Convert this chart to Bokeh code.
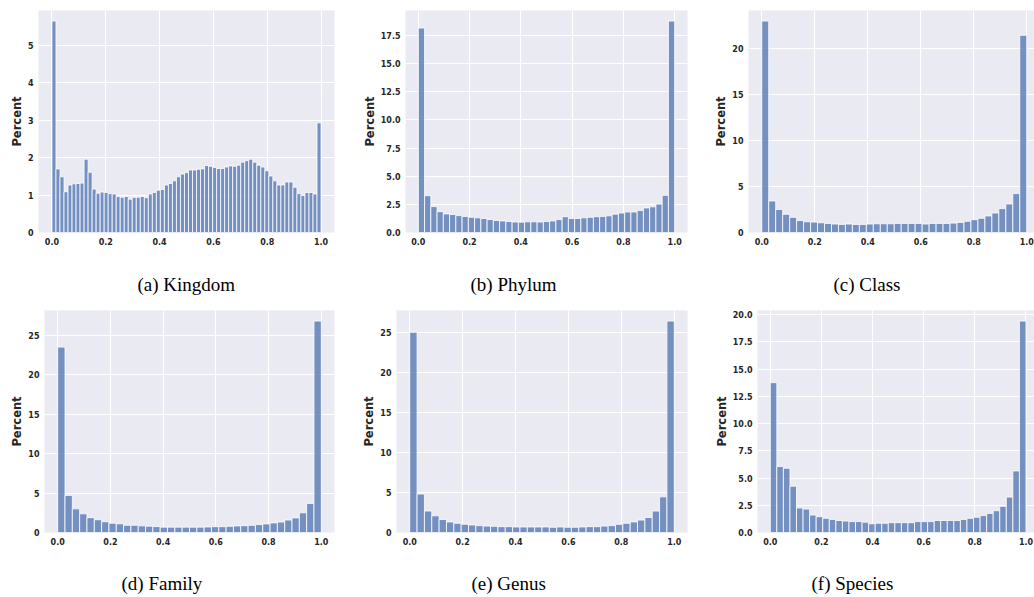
from bokeh.plotting import figure
from bokeh.layouts import column, row
from bokeh.models import Range1d, FixedTicker
from bokeh.core.properties import value
from bokeh.embed import file_html
from bokeh.resources import INLINE

# ---- data (percent of samples per bin, bins span 0..1) ----
kingdom = [5.65, 1.70, 1.49, 1.09, 1.27, 1.30, 1.31, 1.32, 1.96, 1.61,
           1.16, 1.05, 1.08, 1.07, 1.04, 1.03, 0.96, 0.94, 0.96, 0.89,
           0.94, 0.94, 0.96, 0.93, 1.03, 1.07, 1.13, 1.15, 1.27, 1.31,
           1.38, 1.49, 1.56, 1.60, 1.67, 1.67, 1.69, 1.70, 1.79, 1.77,
           1.74, 1.71, 1.71, 1.75, 1.78, 1.77, 1.80, 1.88, 1.92, 1.96,
           1.88, 1.80, 1.75, 1.65, 1.51, 1.38, 1.27, 1.27, 1.35, 1.35,
           1.21, 1.04, 0.99, 1.07, 1.07, 1.03, 2.93]
phylum = [18.15, 3.27, 2.3, 1.85, 1.65, 1.6, 1.5, 1.43, 1.35, 1.3,
          1.24, 1.15, 1.07, 1.03, 0.98, 0.93, 0.92, 0.95, 0.95, 0.93,
          0.98, 1.03, 1.15, 1.4, 1.25, 1.25, 1.3, 1.35, 1.4, 1.43,
          1.48, 1.63, 1.73, 1.82, 1.82, 1.95, 2.18, 2.28, 2.52, 3.3, 18.77]
klass = [23.0, 3.43, 2.5, 1.98, 1.65, 1.3, 1.17, 1.13, 1.06, 0.99,
         0.92, 0.88, 0.92, 0.88, 0.88, 0.92, 0.95, 0.95, 0.95, 0.99,
         0.99, 0.99, 0.99, 0.92, 0.99, 0.99, 0.99, 1.02, 1.1, 1.22,
         1.4, 1.55, 1.8, 2.12, 2.6, 3.1, 4.23, 21.45]
family = [23.5, 4.7, 3.0, 2.37, 1.88, 1.62, 1.36, 1.18, 1.1, 0.92,
          0.92, 0.84, 0.8, 0.75, 0.68, 0.68, 0.68, 0.68, 0.68, 0.68,
          0.7, 0.74, 0.74, 0.78, 0.83, 0.87, 0.91, 1.0, 1.09, 1.22,
          1.32, 1.58, 1.85, 2.5, 3.67, 26.8]
genus = [25.0, 4.8, 2.68, 2.08, 1.62, 1.32, 1.15, 1.03, 0.94, 0.86,
         0.8, 0.77, 0.73, 0.73, 0.69, 0.69, 0.69, 0.69, 0.69, 0.65,
         0.69, 0.65, 0.65, 0.69, 0.73, 0.73, 0.8, 0.86, 1.02, 1.15,
         1.32, 1.55, 1.88, 2.68, 4.45, 26.4]
species = [13.75, 6.05, 5.9, 4.25, 2.25, 2.15, 1.6, 1.45, 1.3, 1.2,
           1.1, 1.05, 1.0, 1.0, 0.95, 0.8, 0.85, 0.85, 0.9, 0.9,
           0.9, 0.9, 1.0, 1.0, 1.0, 1.1, 1.1, 1.1, 1.1, 1.2,
           1.3, 1.4, 1.55, 1.75, 2.0, 2.4, 3.25, 5.65, 19.4]

top_captions = ["(a) Kingdom", "(b) Phylum", "(c) Class"]
bottom_captions = ["(d) Family", "(e) Genus", "(f) Species"]

x_ticks = [0.0, 0.2, 0.4, 0.6, 0.8, 1.0]
x_tick_labels = ["0.0", "0.2", "0.4", "0.6", "0.8", "1.0"]

kingdom_yticks = [0, 1, 2, 3, 4, 5]
kingdom_ylabels = ["0", "1", "2", "3", "4", "5"]
phylum_yticks = [0, 2.5, 5, 7.5, 10, 12.5, 15, 17.5]
phylum_ylabels = ["0.0", "2.5", "5.0", "7.5", "10.0", "12.5", "15.0", "17.5"]
class_yticks = [0, 5, 10, 15, 20]
class_ylabels = ["0", "5", "10", "15", "20"]
family_yticks = [0, 5, 10, 15, 20, 25]
family_ylabels = ["0", "5", "10", "15", "20", "25"]
genus_yticks = [0, 5, 10, 15, 20, 25]
genus_ylabels = ["0", "5", "10", "15", "20", "25"]
species_yticks = [0, 2.5, 5, 7.5, 10, 12.5, 15, 17.5, 20]
species_ylabels = ["0.0", "2.5", "5.0", "7.5", "10.0", "12.5", "15.0", "17.5", "20.0"]

BG = "#EAEAF2"
BAR = "#4C72B0"
TXT = "#262626"
PAGE_W = 1034


def panel(values, yticks, ylabels, frame_w, bl, br, x_end):
    n = len(values)
    w = 1.0 / n
    centers = [(i + 0.5) * w for i in range(n)]
    p = figure(frame_width=frame_w, frame_height=222,
               min_border_left=bl, min_border_right=br, min_border_top=10,
               min_border_bottom=20,
               x_range=Range1d(-0.05, x_end),
               y_range=Range1d(0, max(values) * 1.05),
               output_backend="svg", toolbar_location=None,
               background_fill_color=BG, border_fill_color="white",
               outline_line_color=None)
    p.vbar(x=centers, top=values, width=w, bottom=0,
           fill_color=BAR, fill_alpha=0.75, line_color="white", line_width=0.8)
    p.xaxis.ticker = FixedTicker(ticks=x_ticks)
    p.xaxis.major_label_overrides = dict(zip(x_ticks, x_tick_labels))
    p.yaxis.ticker = FixedTicker(ticks=yticks)
    p.yaxis.major_label_overrides = dict(zip(yticks, ylabels))
    p.yaxis.axis_label = "Percent"
    for ax in (p.xaxis, p.yaxis):
        ax.axis_line_color = None
        ax.major_tick_line_color = None
        ax.minor_tick_line_color = None
        ax.major_tick_out = 0
        ax.major_tick_in = 0
        ax.major_label_text_font = "DejaVu Sans"
        ax.major_label_text_font_style = "bold"
        ax.major_label_text_font_size = "8px"
        ax.major_label_text_color = TXT
        ax.major_label_standoff = 5
    p.yaxis.axis_label_text_font = "DejaVu Sans"
    p.yaxis.axis_label_text_font_style = "bold"
    p.yaxis.axis_label_text_font_size = "11.5px"
    p.yaxis.axis_label_text_color = TXT
    p.yaxis.axis_label_standoff = 1
    p.xgrid.grid_line_color = "white"
    p.ygrid.grid_line_color = "white"
    p.xgrid.grid_line_width = 1
    p.ygrid.grid_line_width = 1
    return p


def caption_strip(texts, lefts, height, cy):
    s = figure(width=PAGE_W, height=height,
               x_range=Range1d(0, PAGE_W), y_range=Range1d(height, 0),
               min_border_left=0, min_border_right=0, min_border_top=0,
               min_border_bottom=0, x_axis_type=None, y_axis_type=None,
               output_backend="svg", toolbar_location=None,
               background_fill_color="white", border_fill_color="white",
               outline_line_color=None)
    s.xgrid.visible = False
    s.ygrid.visible = False
    s.text(x=lefts, y=[cy] * len(texts), text=texts,
           text_font=value("Liberation Serif"), text_font_size=value("19px"),
           text_align="left", text_baseline="middle", text_color="black")
    return s


# layout spec per panel: frame width, left border, right border, caption offset from frame left
top_spec = [(296, 38, 24, 99), (282, 47, 21, 65), (286, 40, 0, 85)]
bot_spec = [(290, 44, 22, 77), (291, 40, 21, 75), (277, 49, 0, 54)]


def caption_lefts(spec):
    lefts, x = [], 0
    for fw, bl, br, off in spec:
        lefts.append(x + bl + off)
        x += bl + fw + br
    return lefts


pa = panel(kingdom, kingdom_yticks, kingdom_ylabels, 296, 38, 24, 1.05)
pb = panel(phylum, phylum_yticks, phylum_ylabels, 282, 47, 21, 1.05)
pc = panel(klass, class_yticks, class_ylabels, 286, 40, 0, -0.05 + 286 / 265.0)
pd = panel(family, family_yticks, family_ylabels, 290, 44, 22, 1.05)
pe = panel(genus, genus_yticks, genus_ylabels, 291, 40, 21, 1.05)
pf = panel(species, species_yticks, species_ylabels, 277, 49, 0, -0.05 + 277 / 255.7)

cap1 = caption_strip(top_captions, caption_lefts(top_spec), 48, 32)
cap2 = caption_strip(bottom_captions, caption_lefts(bot_spec), 45, 31)

layout = column(row(pa, pb, pc), cap1, row(pd, pe, pf), cap2)
open("out.html", "w").write(file_html(layout, INLINE))
